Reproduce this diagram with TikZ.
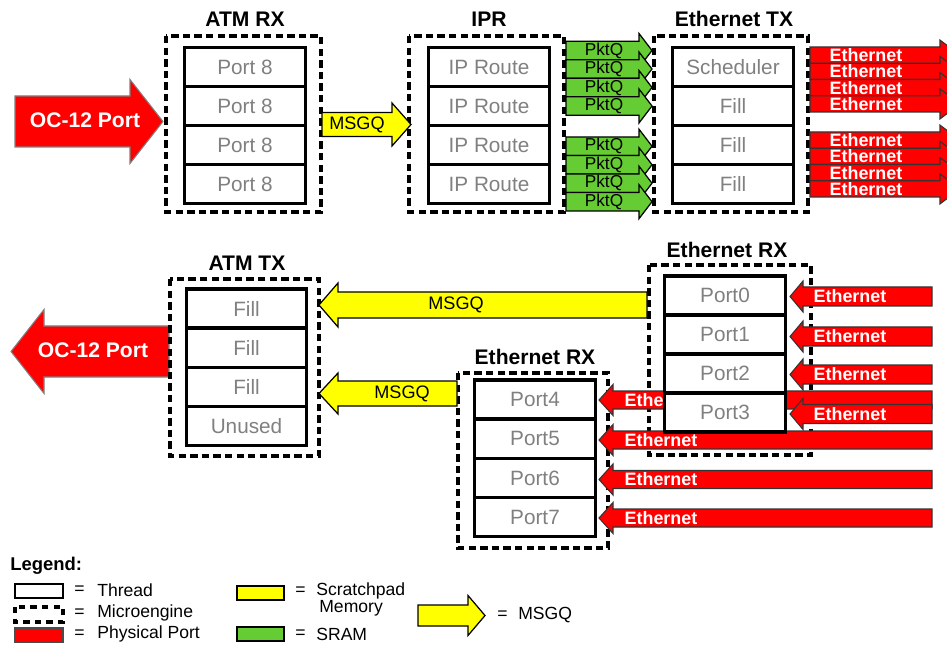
\documentclass[tikz,border=0pt]{standalone}
\usepackage{fontspec}
\setmainfont{Liberation Sans}
\usetikzlibrary{positioning}
\definecolor{portred}{HTML}{FF0000}
\definecolor{spyellow}{HTML}{FFFF00}
\definecolor{sramgreen}{HTML}{66CC33}
% block arrow: style, tail x, head x, tip x, mid y, shaft half, head half
\newcommand{\barrow}[7]{%
	\filldraw[#1] (#2,#5-#6) -- (#3,#5-#6) -- (#3,#5-#7) -- (#4,#5) -- (#3,#5+#7) -- (#3,#5+#6) -- (#2,#5+#6) -- cycle;}

\begin{document}
\begin{tikzpicture}[x=0.02cm, y=-0.02cm,
		thread/.style={draw, line width=1.8pt, fill=white, minimum width=2.41cm, minimum height=0.78cm, inner sep=0pt, text=black!50, font=\fontsize{11.8}{14}\selectfont},
		engine/.style={line width=2.2pt, dash pattern=on 4.2pt off 2.4pt},
		mename/.style={font=\fontsize{12}{14}\selectfont\bfseries, inner sep=0pt},
		ocport/.style={fill=portred, draw=black!50, line width=0.6pt},
		ethport/.style={fill=portred, draw=black!80, line width=0.6pt},
		msgq/.style={fill=spyellow, draw=black, line width=0.7pt},
		pktq/.style={fill=sramgreen, draw=black, line width=0.7pt},
		wlabel/.style={text=white, font=\fontsize{10.2}{12}\selectfont\bfseries, inner sep=0pt},
		blabel/.style={font=\fontsize{10.3}{12}\selectfont, inner sep=0pt},
		legtext/.style={font=\fontsize{10}{12}\selectfont, inner sep=0pt, anchor=west}]
		\useasboundingbox (0,0) rectangle (947,645);
		% outgoing OC-12 sits under the ATM TX microengine
		\barrow{ocport}{169}{44}{11}{351.5}{25.5}{42}
		\node[wlabel, font=\fontsize{12}{14}\selectfont\bfseries] (ocout) at (93,350) {OC-12 Port};
		% microengines
		\draw[engine] (166,36) rectangle (321,212);
		\draw[engine] (409,36) rectangle (564,212);
		\draw[engine] (654,36) rectangle (808,212);
		\draw[engine] (170,279) rectangle (319,456);
		\draw[engine] (649,265) rectangle (811,455);
		\draw[engine] (458,373) rectangle (608,548);
		\node[mename] (atmrxt) at (245,19) {ATM RX};
		\node[mename] (iprt) at (489,19) {IPR};
		\node[mename] (ethtxt) at (734,19) {Ethernet TX};
		\node[mename] (atmtxt) at (247,263) {ATM TX};
		\node[mename] (ethrxat) at (727,250) {Ethernet RX};
		\node[mename] (ethrxbt) at (535,357) {Ethernet RX};
		% top row
		\barrow{ocport}{15}{130}{163}{121.5}{25.5}{42}
		\node[wlabel, font=\fontsize{12}{14}\selectfont\bfseries] (ocin) at (85,120) {OC-12 Port};
		\barrow{msgq}{322}{392}{411}{124.5}{12}{21.5}
		\node[blabel] (msgqa) at (357,124.5) {MSGQ};
		\foreach \y [count=\i] in {50.5,69,87.5,106,146.2,164.7,183.2,201.7} {
			\barrow{pktq}{566}{639}{652}{\y}{9.2}{17}
			\node[blabel, font=\fontsize{9.8}{12}\selectfont] (pktq\i) at (604,\y) {PktQ};
		}
		\foreach \y [count=\i] in {55.1,71.4,87.6,103.9,140.1,156.4,172.6,188.9} {
			\barrow{ethport}{810}{940}{960}{\y}{8.1}{15}
			\node[wlabel] (ethout\i) at (866,\y) {Ethernet};
		}
		% bottom row
		\barrow{msgq}{647}{338}{319}{305}{13}{22}
		\node[blabel] (msgqb) at (456,305) {MSGQ};
		\barrow{msgq}{457}{338}{319}{393.5}{12.5}{20.5}
		\node[blabel] (msgqc) at (402,393.5) {MSGQ};
		\foreach \y [count=\i] in {400,440,479.5,518} {
			\barrow{ethport}{932}{613}{599}{\y}{9}{15.5}
			\node[wlabel] (ethinb\i) at (661,\y) {Ethernet};
		}
		\foreach \y [count=\i] in {296.5,336.5,374.5,414} {
			\barrow{ethport}{932}{803}{790}{\y}{9.5}{15.5}
			\node[wlabel] (ethina\i) at (850,\y) {Ethernet};
		}
		% threads
		\foreach \lbl [count=\i] in {Port 8,Port 8,Port 8,Port 8}
			\node[thread] (atmrx\i) at (245,{67+39*(\i-1)}) {\lbl};
		\foreach \lbl [count=\i] in {IP Route,IP Route,IP Route,IP Route}
			\node[thread] (ipr\i) at (489,{67+39*(\i-1)}) {\lbl};
		\foreach \lbl [count=\i] in {Scheduler,Fill,Fill,Fill}
			\node[thread] (ethtx\i) at (733,{67+39*(\i-1)}) {\lbl};
		\foreach \lbl [count=\i] in {Fill,Fill,Fill,Unused}
			\node[thread] (atmtx\i) at (246.5,{308.5+39.25*(\i-1)}) {\lbl};
		\foreach \lbl [count=\i] in {Port0,Port1,Port2,Port3}
			\node[thread] (ethrxa\i) at (725,{295.5+39*(\i-1)}) {\lbl};
		\foreach \lbl [count=\i] in {Port4,Port5,Port6,Port7}
			\node[thread] (ethrxb\i) at (535,{399.5+39.25*(\i-1)}) {\lbl};
		% legend
		\node[legtext, font=\fontsize{10.5}{12}\selectfont\bfseries] (leg) at (10,566) {Legend:};
		\draw[line width=1.6pt] (15,584) rectangle (63,598);
		\draw[line width=2pt, dash pattern=on 3.6pt off 3pt] (15,607) rectangle (63,622);
		\filldraw[fill=portred, draw=black!70, line width=0.6pt] (15,628) rectangle (63,642);
		\filldraw[fill=spyellow, draw=black, line width=0.7pt] (237,586) rectangle (284,600);
		\filldraw[fill=sramgreen, draw=black, line width=0.7pt] (237,627) rectangle (284,641);
		\barrow{msgq}{418}{468}{485}{615.5}{10.5}{20}
		\foreach \y/\txt [count=\i] in {590/Thread,613/Microengine,634/Physical Port} {
			\node[legtext] (legeq\i) at (74,\y) {=};
			\node[legtext] (legtx\i) at (97,\y) {\txt};
		}
		\node[legtext] (legeq4) at (295,591) {=};
		\node[legtext] (legsp) at (316,591) {Scratchpad};
		\node[legtext] (legmem) at (319,608) {Memory};
		\node[legtext] (legeq5) at (295,634) {=};
		\node[legtext] (legsram) at (316,634) {SRAM};
		\node[legtext] (legeq6) at (497,615) {=};
		\node[legtext] (legmsgq) at (518,615) {MSGQ};
	\end{tikzpicture}
\end{document}
